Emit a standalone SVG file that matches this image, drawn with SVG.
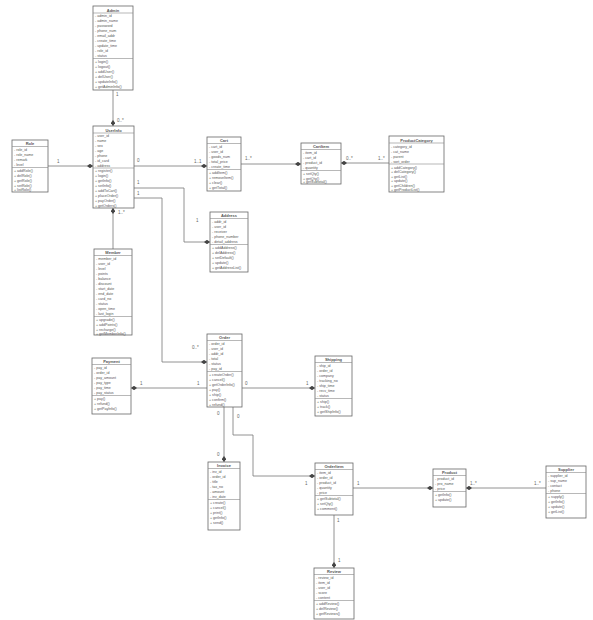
<svg xmlns="http://www.w3.org/2000/svg" width="593" height="620" viewBox="0 0 593 620">
<style>
rect.b{fill:#fff;stroke:#666;stroke-width:0.8}
line.s{stroke:#888;stroke-width:0.6}
text{font-family:"Liberation Sans",Arial,sans-serif;fill:#555}
text.t{font-size:4px;font-weight:bold;text-anchor:middle}
text.a{font-size:3.6px}
.c{fill:none;stroke:#777;stroke-width:0.8}
text.l{font-size:4.5px;fill:#666}
</style>
<defs>
<marker id="d" viewBox="0 0 8 6" refX="8" refY="3" markerWidth="6" markerHeight="4.5" markerUnits="userSpaceOnUse" orient="auto-start-reverse"><path d="M0,3 L4,0 L8,3 L4,6 Z" fill="#444"/></marker>
</defs>
<rect width="593" height="620" fill="#fff"/>
<g id="connectors">
<path class="c" d="M113,90 V126" marker-end="url(#d)"/>
<path class="c" d="M48,166 H93" marker-end="url(#d)"/>
<path class="c" d="M134,166 H207" marker-end="url(#d)"/>
<path class="c" d="M241,164 H301" marker-end="url(#d)"/>
<path class="c" d="M341,163 H389" marker-start="url(#d)"/>
<path class="c" d="M134,188 H184 V242 H210" marker-end="url(#d)"/>
<path class="c" d="M134,198 H162 V362 H207" marker-end="url(#d)"/>
<path class="c" d="M113,208 V249" marker-start="url(#d)"/>
<path class="c" d="M131,388 H207" marker-start="url(#d)"/>
<path class="c" d="M242,388 H315" marker-end="url(#d)"/>
<path class="c" d="M224,407 V462" marker-end="url(#d)"/>
<path class="c" d="M233,407 V435 H253 V476 H315" marker-end="url(#d)"/>
<path class="c" d="M353,488 H433" marker-end="url(#d)"/>
<path class="c" d="M466,488 H546" marker-start="url(#d)"/>
<path class="c" d="M334,515 V568" marker-end="url(#d)"/>
<text class="l" x="116" y="96">1</text>
<text class="l" x="117" y="122">0..*</text>
<text class="l" x="57" y="163">1</text>
<text class="l" x="137" y="162">0</text>
<text class="l" x="194" y="163">1..1</text>
<text class="l" x="245" y="160">1..*</text>
<text class="l" x="346" y="160">0..*</text>
<text class="l" x="378" y="160">1..*</text>
<text class="l" x="137" y="184">1</text>
<text class="l" x="196" y="222">1</text>
<text class="l" x="137" y="195">1</text>
<text class="l" x="192" y="349">0..*</text>
<text class="l" x="118" y="214">1..*</text>
<text class="l" x="140" y="385">1</text>
<text class="l" x="197" y="385">1</text>
<text class="l" x="245" y="385">0</text>
<text class="l" x="306" y="385">1</text>
<text class="l" x="217" y="415">0</text>
<text class="l" x="237" y="418">0</text>
<text class="l" x="217" y="456">0</text>
<text class="l" x="305" y="485">1</text>
<text class="l" x="357" y="485">1</text>
<text class="l" x="470" y="485">1..*</text>
<text class="l" x="534" y="485">1..*</text>
<text class="l" x="337" y="522">1</text>
<text class="l" x="338" y="562">1</text>
</g>
<g id="admin">
<rect class="b" x="93" y="6" width="40" height="84"/>
<text class="t" x="113" y="11.5">Admin</text>
<line class="s" x1="93" y1="13" x2="133" y2="13"/>
<text class="a" x="95" y="17">- admin_id</text>
<text class="a" x="95" y="22">- admin_name</text>
<text class="a" x="95" y="27">- password</text>
<text class="a" x="95" y="32">- phone_num</text>
<text class="a" x="95" y="37">- email_addr</text>
<text class="a" x="95" y="42">- create_time</text>
<text class="a" x="95" y="47">- update_time</text>
<text class="a" x="95" y="52">- role_id</text>
<text class="a" x="95" y="57">- status</text>
<line class="s" x1="93" y1="58.5" x2="133" y2="58.5"/>
<text class="a" x="95" y="63">+ login()</text>
<text class="a" x="95" y="68">+ logout()</text>
<text class="a" x="95" y="73">+ addUser()</text>
<text class="a" x="95" y="78">+ delUser()</text>
<text class="a" x="95" y="83">+ updateInfo()</text>
<text class="a" x="95" y="88">+ getAdminInfo()</text>
</g>
<g id="userinfo">
<rect class="b" x="93" y="126" width="41" height="82"/>
<text class="t" x="113.5" y="131.5">UserInfo</text>
<line class="s" x1="93" y1="133" x2="134" y2="133"/>
<text class="a" x="95" y="137">- user_id</text>
<text class="a" x="95" y="142">- name</text>
<text class="a" x="95" y="147">- sex</text>
<text class="a" x="95" y="152">- age</text>
<text class="a" x="95" y="157">- phone</text>
<text class="a" x="95" y="162">- id_card</text>
<text class="a" x="95" y="167">- address</text>
<line class="s" x1="93" y1="168" x2="134" y2="168"/>
<text class="a" x="95" y="172">+ register()</text>
<text class="a" x="95" y="177">+ login()</text>
<text class="a" x="95" y="182">+ getInfo()</text>
<text class="a" x="95" y="187">+ setInfo()</text>
<text class="a" x="95" y="192">+ addToCart()</text>
<text class="a" x="95" y="197">+ placeOrder()</text>
<text class="a" x="95" y="202">+ payOrder()</text>
<text class="a" x="95" y="207">+ getOrders()</text>
</g>
<g id="role">
<rect class="b" x="12" y="140" width="36" height="52"/>
<text class="t" x="30" y="145">Role</text>
<line class="s" x1="12" y1="146.5" x2="48" y2="146.5"/>
<text class="a" x="14" y="151">- role_id</text>
<text class="a" x="14" y="156">- role_name</text>
<text class="a" x="14" y="161">- remark</text>
<text class="a" x="14" y="166">- level</text>
<line class="s" x1="12" y1="167.5" x2="48" y2="167.5"/>
<text class="a" x="14" y="172">+ addRole()</text>
<text class="a" x="14" y="177">+ delRole()</text>
<text class="a" x="14" y="182">+ getRole()</text>
<text class="a" x="14" y="187">+ setRole()</text>
<text class="a" x="14" y="191">+ listRole()</text>
</g>
<g id="cart">
<rect class="b" x="207" y="137" width="34" height="54"/>
<text class="t" x="224" y="142">Cart</text>
<line class="s" x1="207" y1="143.5" x2="241" y2="143.5"/>
<text class="a" x="209" y="148">- cart_id</text>
<text class="a" x="209" y="153">- user_id</text>
<text class="a" x="209" y="158">- goods_num</text>
<text class="a" x="209" y="163">- total_price</text>
<text class="a" x="209" y="168">- create_time</text>
<line class="s" x1="207" y1="169.5" x2="241" y2="169.5"/>
<text class="a" x="209" y="174">+ addItem()</text>
<text class="a" x="209" y="179">+ removeItem()</text>
<text class="a" x="209" y="184">+ clear()</text>
<text class="a" x="209" y="189">+ getTotal()</text>
</g>
<g id="cartitem">
<rect class="b" x="301" y="143" width="40" height="41"/>
<text class="t" x="321" y="148">CartItem</text>
<line class="s" x1="301" y1="149.5" x2="341" y2="149.5"/>
<text class="a" x="303" y="154">- item_id</text>
<text class="a" x="303" y="159">- cart_id</text>
<text class="a" x="303" y="164">- product_id</text>
<text class="a" x="303" y="169">- quantity</text>
<line class="s" x1="301" y1="170.5" x2="341" y2="170.5"/>
<text class="a" x="303" y="175">+ setQty()</text>
<text class="a" x="303" y="179.5">+ getQty()</text>
<text class="a" x="303" y="183">+ getSubtotal()</text>
</g>
<g id="productcategory">
<rect class="b" x="389" y="136" width="55" height="56"/>
<text class="t" x="416.5" y="141.5">ProductCategory</text>
<line class="s" x1="389" y1="143" x2="444" y2="143"/>
<text class="a" x="391" y="147.5">- category_id</text>
<text class="a" x="391" y="152.5">- cat_name</text>
<text class="a" x="391" y="157.5">- parent</text>
<text class="a" x="391" y="162.5">- sort_order</text>
<line class="s" x1="389" y1="164" x2="444" y2="164"/>
<text class="a" x="391" y="168.5">+ addCategory()</text>
<text class="a" x="391" y="173">+ delCategory()</text>
<text class="a" x="391" y="177.5">+ getList()</text>
<text class="a" x="391" y="182">+ update()</text>
<text class="a" x="391" y="186.5">+ getChildren()</text>
<text class="a" x="391" y="191">+ getProductList()</text>
</g>
<g id="address">
<rect class="b" x="210" y="212" width="38" height="60"/>
<text class="t" x="229" y="217">Address</text>
<line class="s" x1="210" y1="218.5" x2="248" y2="218.5"/>
<text class="a" x="212" y="223">- addr_id</text>
<text class="a" x="212" y="228">- user_id</text>
<text class="a" x="212" y="233">- receiver</text>
<text class="a" x="212" y="238">- phone_number</text>
<text class="a" x="212" y="243">- detail_address</text>
<line class="s" x1="210" y1="244.5" x2="248" y2="244.5"/>
<text class="a" x="212" y="249">+ addAddress()</text>
<text class="a" x="212" y="254">+ delAddress()</text>
<text class="a" x="212" y="259">+ setDefault()</text>
<text class="a" x="212" y="264">+ update()</text>
<text class="a" x="212" y="269">+ getAddressList()</text>
</g>
<g id="member">
<rect class="b" x="94" y="249" width="38" height="86"/>
<text class="t" x="113" y="254">Member</text>
<line class="s" x1="94" y1="255.5" x2="132" y2="255.5"/>
<text class="a" x="96" y="260">- member_id</text>
<text class="a" x="96" y="265">- user_id</text>
<text class="a" x="96" y="270">- level</text>
<text class="a" x="96" y="275">- points</text>
<text class="a" x="96" y="280">- balance</text>
<text class="a" x="96" y="285">- discount</text>
<text class="a" x="96" y="290">- start_date</text>
<text class="a" x="96" y="295">- end_date</text>
<text class="a" x="96" y="300">- card_no</text>
<text class="a" x="96" y="305">- status</text>
<text class="a" x="96" y="310">- open_time</text>
<text class="a" x="96" y="315">- last_login</text>
<line class="s" x1="94" y1="316.5" x2="132" y2="316.5"/>
<text class="a" x="96" y="321">+ upgrade()</text>
<text class="a" x="96" y="326">+ addPoints()</text>
<text class="a" x="96" y="331">+ recharge()</text>
<text class="a" x="96" y="334.5">+ getMemberInfo()</text>
</g>
<g id="order">
<rect class="b" x="207" y="334" width="35" height="73"/>
<text class="t" x="224.5" y="339">Order</text>
<line class="s" x1="207" y1="340.5" x2="242" y2="340.5"/>
<text class="a" x="209" y="345">- order_id</text>
<text class="a" x="209" y="350">- user_id</text>
<text class="a" x="209" y="355">- addr_id</text>
<text class="a" x="209" y="360">- total</text>
<text class="a" x="209" y="365">- status</text>
<text class="a" x="209" y="370">- pay_id</text>
<line class="s" x1="207" y1="371.5" x2="242" y2="371.5"/>
<text class="a" x="209" y="376">+ createOrder()</text>
<text class="a" x="209" y="381">+ cancel()</text>
<text class="a" x="209" y="386">+ getOrderInfo()</text>
<text class="a" x="209" y="391">+ pay()</text>
<text class="a" x="209" y="396">+ ship()</text>
<text class="a" x="209" y="401">+ confirm()</text>
<text class="a" x="209" y="406">+ refund()</text>
</g>
<g id="payment">
<rect class="b" x="92" y="358" width="39" height="56"/>
<text class="t" x="111.5" y="363">Payment</text>
<line class="s" x1="92" y1="364.5" x2="131" y2="364.5"/>
<text class="a" x="94" y="369">- pay_id</text>
<text class="a" x="94" y="374">- order_id</text>
<text class="a" x="94" y="379">- pay_amount</text>
<text class="a" x="94" y="384">- pay_type</text>
<text class="a" x="94" y="389">- pay_time</text>
<text class="a" x="94" y="394">- pay_status</text>
<line class="s" x1="92" y1="395.5" x2="131" y2="395.5"/>
<text class="a" x="94" y="400">+ pay()</text>
<text class="a" x="94" y="405">+ refund()</text>
<text class="a" x="94" y="410">+ getPayInfo()</text>
</g>
<g id="shipping">
<rect class="b" x="315" y="356" width="37" height="60"/>
<text class="t" x="333.5" y="361">Shipping</text>
<line class="s" x1="315" y1="362.5" x2="352" y2="362.5"/>
<text class="a" x="317" y="367">- ship_id</text>
<text class="a" x="317" y="372">- order_id</text>
<text class="a" x="317" y="377">- company</text>
<text class="a" x="317" y="382">- tracking_no</text>
<text class="a" x="317" y="387">- ship_time</text>
<text class="a" x="317" y="392">- recv_time</text>
<text class="a" x="317" y="397">- status</text>
<line class="s" x1="315" y1="398.5" x2="352" y2="398.5"/>
<text class="a" x="317" y="403">+ ship()</text>
<text class="a" x="317" y="408">+ track()</text>
<text class="a" x="317" y="413">+ getShipInfo()</text>
</g>
<g id="invoice">
<rect class="b" x="208" y="462" width="32" height="68"/>
<text class="t" x="224" y="467">Invoice</text>
<line class="s" x1="208" y1="468.5" x2="240" y2="468.5"/>
<text class="a" x="210" y="473">- inv_id</text>
<text class="a" x="210" y="478">- order_id</text>
<text class="a" x="210" y="483">- title</text>
<text class="a" x="210" y="488">- tax_no</text>
<text class="a" x="210" y="493">- amount</text>
<text class="a" x="210" y="498">- inv_date</text>
<line class="s" x1="208" y1="499.5" x2="240" y2="499.5"/>
<text class="a" x="210" y="504">+ create()</text>
<text class="a" x="210" y="509">+ cancel()</text>
<text class="a" x="210" y="514">+ print()</text>
<text class="a" x="210" y="519">+ getInfo()</text>
<text class="a" x="210" y="524">+ send()</text>
</g>
<g id="orderitem">
<rect class="b" x="315" y="463" width="38" height="52"/>
<text class="t" x="334" y="468">OrderItem</text>
<line class="s" x1="315" y1="469.5" x2="353" y2="469.5"/>
<text class="a" x="317" y="474">- item_id</text>
<text class="a" x="317" y="479">- order_id</text>
<text class="a" x="317" y="484">- product_id</text>
<text class="a" x="317" y="489">- quantity</text>
<text class="a" x="317" y="494">- price</text>
<line class="s" x1="315" y1="495.5" x2="353" y2="495.5"/>
<text class="a" x="317" y="500">+ getSubtotal()</text>
<text class="a" x="317" y="505">+ setQty()</text>
<text class="a" x="317" y="510">+ comment()</text>
</g>
<g id="product">
<rect class="b" x="433" y="469" width="33" height="38"/>
<text class="t" x="449.5" y="474">Product</text>
<line class="s" x1="433" y1="475.5" x2="466" y2="475.5"/>
<text class="a" x="435" y="480">- product_id</text>
<text class="a" x="435" y="485">- pro_name</text>
<text class="a" x="435" y="490">- price</text>
<line class="s" x1="433" y1="491.5" x2="466" y2="491.5"/>
<text class="a" x="435" y="496">+ getInfo()</text>
<text class="a" x="435" y="501">+ update()</text>
</g>
<g id="supplier">
<rect class="b" x="546" y="466" width="40" height="52"/>
<text class="t" x="566" y="471">Supplier</text>
<line class="s" x1="546" y1="472.5" x2="586" y2="472.5"/>
<text class="a" x="548" y="477">- supplier_id</text>
<text class="a" x="548" y="482">- sup_name</text>
<text class="a" x="548" y="487">- contact</text>
<text class="a" x="548" y="492">- phone</text>
<line class="s" x1="546" y1="493.5" x2="586" y2="493.5"/>
<text class="a" x="548" y="498">+ supply()</text>
<text class="a" x="548" y="503">+ getInfo()</text>
<text class="a" x="548" y="508">+ update()</text>
<text class="a" x="548" y="513">+ getList()</text>
</g>
<g id="review">
<rect class="b" x="314" y="568" width="40" height="51"/>
<text class="t" x="334" y="573">Review</text>
<line class="s" x1="314" y1="574.5" x2="354" y2="574.5"/>
<text class="a" x="316" y="579">- review_id</text>
<text class="a" x="316" y="584">- item_id</text>
<text class="a" x="316" y="589">- user_id</text>
<text class="a" x="316" y="594">- score</text>
<text class="a" x="316" y="599">- content</text>
<line class="s" x1="314" y1="600.5" x2="354" y2="600.5"/>
<text class="a" x="316" y="605">+ addReview()</text>
<text class="a" x="316" y="610">+ delReview()</text>
<text class="a" x="316" y="615">+ getReviews()</text>
</g>
</svg>
